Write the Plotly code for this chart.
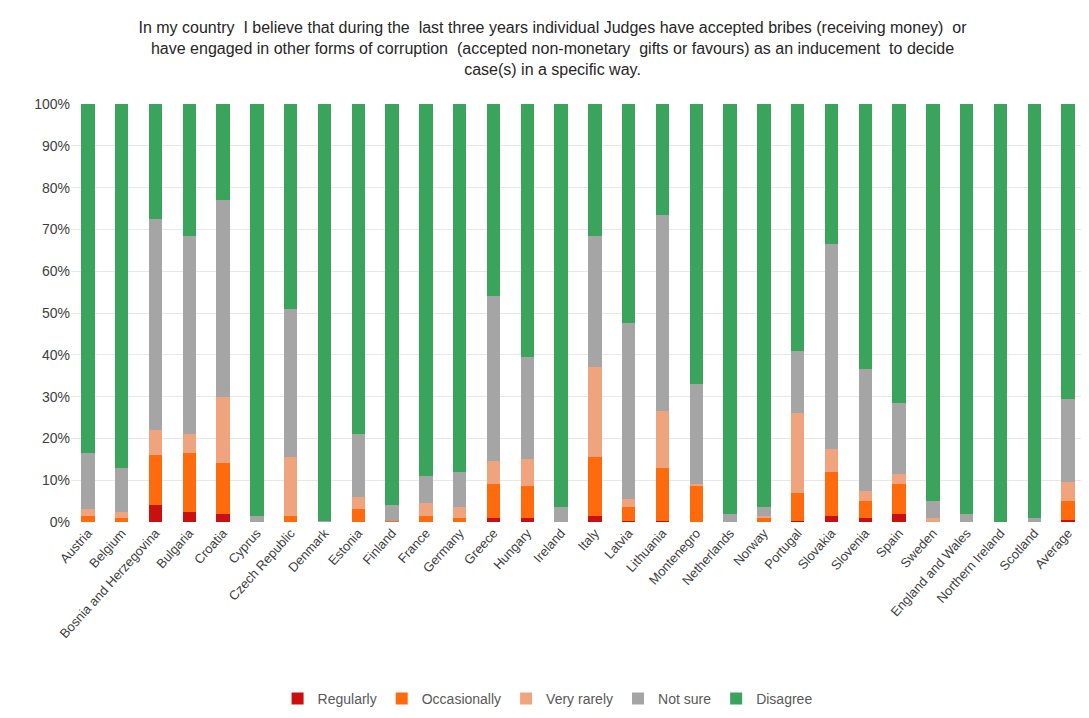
import plotly.graph_objects as go

countries = ["Austria", "Belgium", "Bosnia and Herzegovina", "Bulgaria", "Croatia", "Cyprus",
             "Czech Republic", "Denmark", "Estonia", "Finland", "France", "Germany", "Greece",
             "Hungary", "Ireland", "Italy", "Latvia", "Lithuania", "Montenegro", "Netherlands",
             "Norway", "Portugal", "Slovakia", "Slovenia", "Spain", "Sweden", "England and Wales",
             "Northern Ireland", "Scotland", "Average"]

regularly = [0, 0, 4, 2.5, 2, 0, 0, 0, 0, 0, 0, 0, 1, 1, 0, 1.5, 0.3, 0.3, 0, 0,
             0, 0.3, 1.5, 1, 2, 0, 0, 0, 0, 0.5]
occasionally = [1.5, 1, 12, 14, 12, 0, 1.5, 0, 3, 0.3, 1.5, 1, 8, 7.5, 0, 14, 3.2, 12.7, 8.5, 0,
                1, 6.7, 10.5, 4, 7, 0, 0, 0, 0, 4.5]
very_rarely = [1.5, 1.5, 6, 4.5, 16, 0, 14, 0, 3, 0, 3, 2.5, 5.5, 6.5, 0, 21.5, 2, 13.5, 0.5, 0,
               0.5, 19, 5.5, 2.5, 2.5, 1, 0, 0, 0, 4.5]
not_sure = [13.5, 10.5, 50.5, 47.5, 47, 1.5, 35.5, 0.3, 15, 3.7, 6.5, 8.5, 39.5, 24.5, 3.5, 31.5,
            42, 47, 24, 2, 2, 15, 49, 29, 17, 4, 1.8, 0, 1, 20]
disagree = [100 - a - b - c - d for a, b, c, d in zip(regularly, occasionally, very_rarely, not_sure)]

series = [
    ("Regularly", regularly, "#C9100F"),
    ("Occasionally", occasionally, "#FF6A0D"),
    ("Very rarely", very_rarely, "#EFA47E"),
    ("Not sure", not_sure, "#A5A5A5"),
    ("Disagree", disagree, "#3AA45C"),
]

fig = go.Figure()
for name, vals, col in series:
    fig.add_trace(go.Bar(x=countries, y=vals, name=name, marker_color=col,
                         marker_line_width=0))

title = ("In my country  I believe that during the  last three years individual Judges have accepted bribes (receiving money)  or<br>"
         "have engaged in other forms of corruption  (accepted non-monetary  gifts or favours) as an inducement  to decide<br>"
         "case(s) in a specific way.")

fig.update_layout(
    barmode="stack",
    bargap=0.6,
    width=1089, height=718,
    plot_bgcolor="#FFFFFF",
    paper_bgcolor="#FFFFFF",
    font=dict(family="Liberation Sans, Arial, sans-serif", size=13, color="#404040"),
    title=dict(text=title, x=0.5, y=0.965, xanchor="center", yanchor="top",
               font=dict(size=16, color="#262626")),
    margin=dict(l=63, r=12, t=96, b=203),
    legend=dict(orientation="h", x=0.47, xanchor="center", y=-0.42, yanchor="middle",
                font=dict(size=14, color="#595959"), traceorder="normal", itemwidth=30),
    yaxis=dict(range=[0, 100], tickvals=list(range(0, 101, 10)),
               ticktext=[f"{v}%" for v in range(0, 101, 10)],
               gridcolor="#E8E8E8", zeroline=False, showline=False,
               tickfont=dict(size=14, color="#404040")),
    xaxis=dict(tickangle=-48, showline=False, tickfont=dict(size=13, color="#404040")),
)

fig.write_html("out.html")
